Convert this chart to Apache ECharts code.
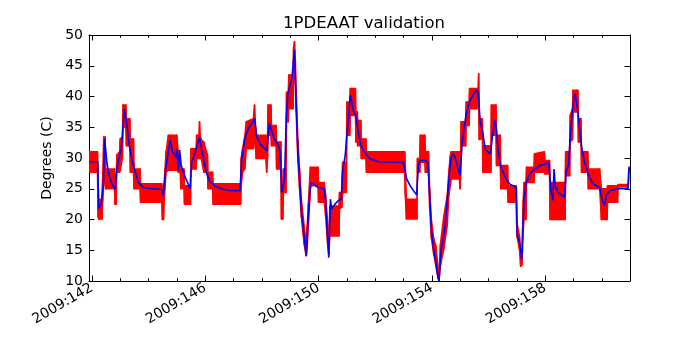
<!DOCTYPE html>
<html>
<head>
<meta charset="utf-8">
<script src="https://cdn.jsdelivr.net/npm/echarts@6/dist/echarts.min.js"></script>
<style>
  html, body { margin: 0; padding: 0; background: #fff; }
  #chart { width: 700px; height: 350px; }
</style>
</head>
<body>
<div id="chart"></div>
<script>
var chartTitle = '1PDEAAT validation';
var yName = 'Degrees (C)';
var xMin = 141.9, xMax = 160.99;
var yMin = 10, yMax = 50, yStep = 5;
var majorDays = [142, 146, 150, 154, 158];
var minorDays = [142, 143, 144, 145, 146, 147, 148, 149, 150, 151, 152, 153, 154, 155, 156, 157, 158, 159, 160];

// telemetry: [day, low, high] of the noisy red trace
var redBand = [
  [141.9, 27.7, 31.0], [142.2, 27.7, 31.0], [142.22, 20.5, 26.0], [142.24, 20.1, 23.3],
  [142.36, 20.1, 23.3], [142.38, 22.8, 26.5], [142.42, 25.5, 33.4], [142.47, 27.0, 33.4],
  [142.49, 25.0, 28.2], [142.8, 25.0, 28.2], [142.82, 22.5, 25.5], [142.86, 22.5, 25.5],
  [142.88, 27.7, 30.5], [142.98, 27.7, 31.0], [143.0, 28.0, 33.1], [143.08, 30.0, 33.4],
  [143.1, 35.0, 38.6], [143.2, 35.0, 38.6], [143.22, 32.0, 36.4], [143.34, 32.0, 36.4],
  [143.36, 27.7, 33.1], [143.47, 27.7, 33.1], [143.49, 25.0, 28.2], [143.7, 25.0, 28.2],
  [143.72, 22.8, 25.8], [144.47, 22.8, 25.8], [144.49, 20.0, 25.0], [144.53, 20.0, 25.0],
  [144.55, 22.8, 25.8], [144.58, 25.0, 28.2], [144.62, 27.7, 31.0], [144.7, 28.0, 33.7],
  [145.0, 28.0, 33.7], [145.05, 27.7, 31.0], [145.12, 27.7, 29.9], [145.14, 25.0, 28.2],
  [145.25, 25.0, 28.2], [145.27, 22.5, 25.5], [145.48, 22.5, 25.5], [145.5, 28.2, 31.5],
  [145.68, 28.2, 31.5], [145.7, 29.9, 33.7], [145.78, 29.9, 33.7], [145.8, 30.5, 35.9],
  [145.82, 29.9, 33.7], [145.86, 29.9, 33.0], [145.95, 27.7, 32.6], [146.08, 27.7, 30.5],
  [146.1, 25.0, 27.7], [146.26, 25.0, 27.7], [146.28, 22.5, 25.8], [147.25, 22.5, 25.8],
  [147.27, 25.5, 30.0], [147.32, 27.7, 31.5], [147.4, 28.2, 33.7], [147.45, 31.5, 35.9],
  [147.7, 31.5, 36.4], [147.74, 33.0, 38.6], [147.78, 31.5, 35.0], [147.8, 29.9, 33.7],
  [148.14, 29.9, 33.7], [148.17, 27.7, 32.0], [148.2, 29.9, 33.7], [148.22, 33.7, 38.6],
  [148.32, 33.7, 38.6], [148.34, 32.0, 35.3], [148.5, 32.0, 35.3], [148.52, 28.2, 32.6],
  [148.67, 28.2, 32.6], [148.69, 20.1, 27.0], [148.74, 20.1, 25.0], [148.76, 24.4, 28.2],
  [148.85, 24.4, 28.2], [148.87, 35.9, 40.7], [148.93, 35.9, 40.7], [148.95, 38.0, 43.5],
  [149.1, 38.0, 43.5], [149.12, 44.0, 48.0], [149.15, 45.0, 48.9], [149.18, 42.0, 46.0],
  [149.21, 37.5, 41.0], [149.27, 29.5, 33.0], [149.33, 25.0, 28.2], [149.39, 20.5, 23.5],
  [149.49, 16.0, 19.0], [149.56, 14.1, 16.5], [149.6, 15.5, 19.0], [149.64, 19.0, 22.5],
  [149.69, 23.0, 27.0], [149.71, 25.5, 28.5], [149.98, 25.5, 28.5], [150.0, 22.8, 26.0],
  [150.2, 22.8, 26.0], [150.25, 20.5, 24.0], [150.32, 16.0, 19.5], [150.36, 14.3, 16.5],
  [150.4, 17.3, 22.2], [150.72, 17.3, 22.2], [150.74, 21.7, 24.4], [150.82, 22.0, 24.4],
  [150.85, 24.4, 29.3], [150.98, 24.4, 29.3], [151.0, 33.7, 39.1], [151.1, 33.7, 39.1],
  [151.12, 36.9, 41.3], [151.3, 36.9, 41.3], [151.32, 32.6, 37.5], [151.37, 32.6, 37.5],
  [151.38, 32.0, 36.1], [151.49, 32.0, 36.1], [151.51, 29.9, 33.1], [151.67, 29.9, 33.1],
  [151.69, 27.7, 31.0], [153.04, 27.7, 31.0], [153.06, 24.0, 29.0], [153.1, 20.1, 23.3],
  [153.47, 20.1, 23.3], [153.49, 27.7, 29.9], [153.57, 27.7, 29.9], [153.59, 29.3, 33.7],
  [153.75, 29.3, 33.7], [153.77, 27.7, 31.0], [153.88, 27.7, 31.0], [153.92, 22.0, 25.0],
  [153.98, 17.0, 20.0], [154.06, 14.5, 17.0], [154.14, 12.4, 15.7], [154.21, 10.5, 12.5],
  [154.25, 10.0, 11.0], [154.3, 12.5, 16.0], [154.42, 15.2, 20.6], [154.54, 19.0, 23.9],
  [154.6, 24.0, 28.0], [154.65, 25.5, 30.4], [154.68, 26.6, 31.0], [154.97, 26.6, 31.0],
  [154.99, 25.0, 28.0], [155.01, 26.6, 30.0], [155.03, 32.0, 35.9], [155.19, 32.0, 35.9],
  [155.21, 35.3, 39.1], [155.31, 35.3, 39.1], [155.33, 38.0, 41.3], [155.63, 38.0, 41.3],
  [155.65, 39.0, 43.7], [155.67, 33.0, 37.0], [155.7, 33.1, 36.4], [155.78, 33.1, 36.4],
  [155.8, 27.7, 32.0], [156.08, 27.7, 32.0], [156.1, 33.7, 38.6], [156.26, 33.7, 38.6],
  [156.28, 28.8, 33.7], [156.41, 28.8, 33.7], [156.43, 25.0, 28.8], [156.67, 25.0, 28.8],
  [156.69, 22.8, 25.5], [156.97, 22.8, 25.5], [157.0, 17.3, 19.5], [157.09, 15.2, 17.3],
  [157.13, 12.4, 15.0], [157.18, 12.6, 14.5], [157.22, 18.0, 23.0], [157.25, 20.0, 26.0],
  [157.32, 20.0, 26.0], [157.34, 26.0, 28.5], [157.6, 26.0, 28.5], [157.62, 27.7, 30.7],
  [157.97, 27.7, 31.0], [157.99, 27.4, 29.6], [158.15, 27.4, 29.6], [158.17, 20.0, 26.0],
  [158.7, 20.0, 26.0], [158.72, 27.1, 31.0], [158.86, 27.1, 31.0], [158.88, 32.6, 37.0],
  [158.96, 33.0, 38.0], [158.98, 37.5, 41.0], [159.15, 37.5, 41.0], [159.17, 32.6, 36.4],
  [159.26, 32.6, 36.4], [159.28, 27.7, 31.0], [159.5, 27.7, 31.0], [159.52, 25.0, 28.2],
  [159.92, 25.0, 28.2], [159.98, 20.0, 25.0], [160.18, 20.0, 25.0], [160.2, 22.8, 25.5],
  [160.55, 22.8, 25.5], [160.57, 25.3, 25.7], [160.93, 25.3, 25.7], [160.95, 27.7, 28.5],
  [160.99, 27.7, 28.5]
];

// model: [day, temperature]
var bluePred = [
  [141.9, 29.4], [142.21, 29.4], [142.24, 21.8], [142.33, 22.5], [142.41, 26.0], [142.45, 33.1],
  [142.53, 29.3], [142.61, 27.1], [142.71, 25.8], [142.82, 24.9], [142.88, 28.2], [142.96, 30.1],
  [143.04, 31.5], [143.15, 38.0], [143.24, 35.3], [143.32, 32.0], [143.41, 29.9], [143.53, 27.7],
  [143.65, 26.0], [143.82, 25.2], [144.12, 25.0], [144.47, 24.9], [144.52, 23.9], [144.61, 28.2],
  [144.71, 31.5], [144.76, 32.9], [144.85, 31.0], [144.92, 31.2], [144.96, 30.2], [145.0, 31.5],
  [145.05, 28.0], [145.1, 31.3], [145.15, 28.8], [145.2, 29.0], [145.32, 26.6], [145.47, 25.0],
  [145.52, 29.3], [145.62, 30.4], [145.71, 32.0], [145.8, 33.4], [145.92, 30.4], [146.04, 27.7],
  [146.15, 26.3], [146.33, 25.5], [146.57, 25.0], [146.93, 24.7], [147.23, 24.7], [147.29, 29.9],
  [147.4, 33.1], [147.52, 34.8], [147.64, 35.6], [147.74, 36.4], [147.82, 33.4], [147.94, 32.3],
  [148.1, 31.5], [148.18, 31.2], [148.26, 35.7], [148.32, 35.4], [148.44, 33.1], [148.56, 32.3],
  [148.65, 31.0], [148.7, 24.4], [148.8, 26.6], [148.86, 36.4], [148.92, 40.5], [148.99, 40.7],
  [149.06, 42.9], [149.13, 46.7], [149.15, 47.6], [149.21, 39.1], [149.27, 31.0], [149.33, 26.6],
  [149.39, 21.7], [149.49, 17.3], [149.57, 14.1], [149.63, 20.1], [149.69, 24.4], [149.75, 26.0],
  [149.87, 25.6], [149.99, 25.2], [150.2, 25.0], [150.25, 22.8], [150.32, 17.3], [150.36, 13.8],
  [150.42, 23.3], [150.46, 21.7], [150.58, 22.5], [150.7, 23.1], [150.8, 23.3], [150.85, 28.0],
  [150.94, 30.4], [151.04, 35.9], [151.12, 40.2], [151.18, 40.5], [151.24, 37.5], [151.32, 36.9],
  [151.4, 34.2], [151.5, 32.0], [151.62, 31.0], [151.8, 29.9], [152.1, 29.4], [152.99, 29.3],
  [153.05, 29.0], [153.11, 26.6], [153.23, 25.5], [153.35, 24.7], [153.46, 24.0], [153.52, 28.8],
  [153.58, 29.6], [153.76, 29.6], [153.86, 29.3], [153.92, 23.9], [153.98, 18.4], [154.06, 15.2],
  [154.14, 13.0], [154.21, 10.8], [154.25, 10.0], [154.33, 15.2], [154.42, 17.3], [154.5, 20.6],
  [154.6, 26.6], [154.67, 29.9], [154.73, 30.7], [154.81, 30.2], [154.91, 28.5], [154.99, 27.1],
  [155.08, 33.1], [155.2, 36.9], [155.32, 39.1], [155.44, 40.2], [155.56, 41.0], [155.64, 40.7],
  [155.7, 35.9], [155.79, 34.2], [155.88, 31.5], [155.97, 31.0], [156.07, 30.7], [156.15, 34.2],
  [156.21, 36.1], [156.27, 35.0], [156.33, 31.5], [156.42, 28.8], [156.56, 27.1], [156.74, 25.8],
  [156.98, 25.2], [157.01, 17.6], [157.09, 16.3], [157.17, 13.5], [157.25, 23.3], [157.33, 26.0],
  [157.45, 27.4], [157.63, 28.2], [157.82, 28.8], [157.98, 29.0], [158.12, 29.3], [158.16, 29.0],
  [158.21, 24.4], [158.27, 23.1], [158.31, 28.2], [158.35, 25.5], [158.45, 24.4], [158.68, 23.6],
  [158.74, 28.0], [158.82, 28.8], [158.89, 34.2], [158.98, 38.6], [159.04, 40.5], [159.07, 40.0],
  [159.15, 37.5], [159.21, 34.8], [159.29, 31.5], [159.39, 29.3], [159.51, 27.4], [159.68, 25.8],
  [159.92, 25.2], [160.0, 23.3], [160.09, 22.2], [160.15, 23.9], [160.27, 24.7], [160.56, 25.0],
  [160.92, 25.0], [160.95, 28.3], [160.99, 28.3]
];

var FONT = 'DejaVu Sans';
var chart = echarts.init(document.getElementById('chart'), null, { renderer: 'canvas' });

// one quad per step between consecutive samples: the filled envelope of the red trace
function renderBand(params, api) {
  var i = params.dataIndex;
  if (i >= redBand.length - 1) return null;
  var a = redBand[i], b = redBand[i + 1];
  var pts = [
    api.coord([a[0], a[1]]), api.coord([b[0], b[1]]),
    api.coord([b[0], b[2]]), api.coord([a[0], a[2]])
  ];
  return {
    type: 'polygon',
    shape: { points: pts },
    style: { fill: '#ff0000', stroke: '#ff0000', lineWidth: 1.5, lineJoin: 'round' }
  };
}

function xAx(pos, ticks, len, labels, line) {
  return {
    type: 'value', position: pos, min: xMin, max: xMax,
    axisLine: { show: line, onZero: false, lineStyle: { color: '#000', width: 1 } },
    axisTick: { show: true, inside: true, length: len, customValues: ticks, lineStyle: { color: '#000' } },
    axisLabel: labels ? {
      show: true, customValues: ticks, rotate: 30, margin: 6,
      color: '#000', fontFamily: FONT, fontSize: 14,
      formatter: function (v) { return '2009:' + v; }
    } : { show: false },
    splitLine: { show: false }
  };
}

var option = {
  backgroundColor: '#fff',
  animation: false,
  title: {
    text: chartTitle, left: 359, top: 10, textAlign: 'center',
    textStyle: { fontFamily: FONT, fontSize: 16.5, fontWeight: 'normal', color: '#000' }
  },
  grid: { left: 89, right: 70, top: 35, bottom: 69 },
  xAxis: [
    xAx('bottom', majorDays, 5.5, true, true),
    xAx('bottom', minorDays, 2.8, false, false),
    xAx('top', majorDays, 5.5, false, true),
    xAx('top', minorDays, 2.8, false, false)
  ],
  yAxis: [
    {
      type: 'value', position: 'left', min: yMin, max: yMax, interval: yStep,
      name: yName, nameLocation: 'middle', nameGap: 31, nameRotate: 90,
      nameTextStyle: { fontFamily: FONT, fontSize: 14, color: '#000' },
      axisLine: { show: true, onZero: false, lineStyle: { color: '#000', width: 1 } },
      axisTick: { show: true, inside: true, length: 5.5, lineStyle: { color: '#000' } },
      axisLabel: { color: '#000', fontFamily: FONT, fontSize: 14, margin: 6 },
      splitLine: { show: false }
    },
    {
      type: 'value', position: 'right', min: yMin, max: yMax, interval: yStep,
      axisLine: { show: true, onZero: false, lineStyle: { color: '#000', width: 1 } },
      axisTick: { show: true, inside: true, length: 5.5, lineStyle: { color: '#000' } },
      axisLabel: { show: false },
      splitLine: { show: false }
    }
  ],
  series: [
    {
      name: 'telemetry', type: 'custom', xAxisIndex: 0, yAxisIndex: 0,
      renderItem: renderBand, data: redBand, encode: { x: 0, y: [1, 2] }, z: 2, clip: true
    },
    {
      name: 'model', type: 'line', xAxisIndex: 0, yAxisIndex: 0,
      data: bluePred, showSymbol: false, z: 3, clip: true,
      lineStyle: { color: '#0000ff', width: 1.6 }
    }
  ]
};
chart.setOption(option);
</script>
</body>
</html>
